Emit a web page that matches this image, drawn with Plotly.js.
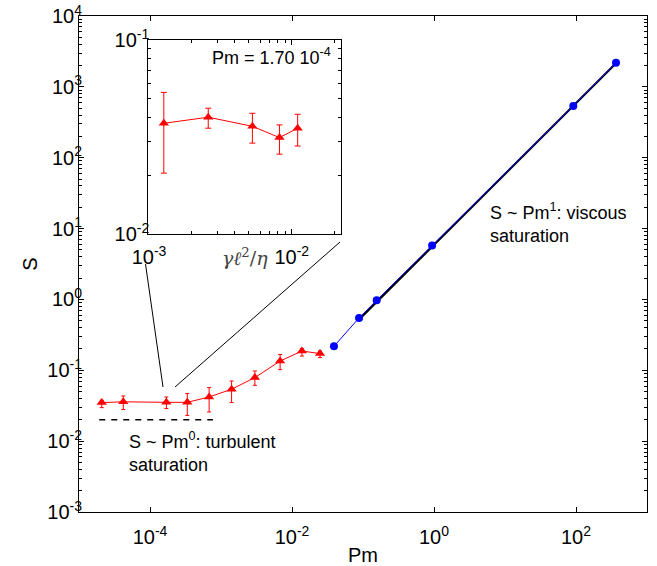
<!DOCTYPE html>
<html>
<head>
<meta charset="utf-8">
<script src="https://cdn.plot.ly/plotly-3.0.1.min.js"></script>
<style>html,body{margin:0;padding:0;background:#fff;}</style>
</head>
<body>
<div id="chart" style="width:657px;height:566px;"></div>
<script>
// Main plot: red series (turbulent regime) with error bars
const redPm = [2.09e-5, 4.2e-5, 1.70e-4, 3.35e-4, 6.8e-4, 1.41e-3, 3.0e-3, 6.8e-3, 1.38e-2, 2.48e-2];
const redS = [0.0350, 0.0359, 0.0353, 0.0353, 0.042, 0.054, 0.0789, 0.135, 0.187, 0.172];
const redSUp = [0.0377, 0.0434, 0.0420, 0.0469, 0.057, 0.0706, 0.0977, 0.167, 0.202, 0.187];
const redSLo = [0.0297, 0.0279, 0.0288, 0.0231, 0.0258, 0.0350, 0.0614, 0.102, 0.159, 0.151];

// Main plot: blue series (viscous regime)
const bluePm = [0.039, 0.088, 0.156, 0.94, 91.6, 366];
const blueS = [0.218, 0.548, 0.975, 5.77, 536, 2190];

// Guide lines
const fitPm = [0.088, 360];
const fitS = [0.52, 2124];
const flatPm = [1.93e-5, 7.7e-4];
const flatS = [0.02, 0.02];

// Inset series
const insetX = [1.27e-3, 2.6e-3, 5.3e-3, 8.2e-3, 1.1e-2];
const insetY = [0.0372, 0.040, 0.0359, 0.0314, 0.0351];
const insetYUp = [0.0537, 0.0445, 0.0419, 0.0365, 0.0414];
const insetYLo = [0.0206, 0.0351, 0.0294, 0.0258, 0.0284];

// Tick labels
const mainXTicks = [1e-4, 1e-2, 1, 1e2];
const mainXText = ['10<sup>-4</sup>', '10<sup>-2</sup>', '10<sup>0</sup>', '10<sup>2</sup>'];
const mainYTicks = [1e-3, 1e-2, 1e-1, 1, 10, 100, 1000, 10000];
const mainYText = ['10<sup>-3</sup>', '10<sup>-2</sup>', '10<sup>-1</sup>', '10<sup>0</sup>', '10<sup>1</sup>', '10<sup>2</sup>', '10<sup>3</sup>', '10<sup>4</sup>'];
const insetXTicks = [1e-3, 1e-2];
const insetXText = ['10<sup>-3</sup>', '10<sup>-2</sup>'];
const insetYTicks = [1e-2, 1e-1];
const insetYText = ['10<sup>-2</sup>', '10<sup>-1</sup>'];

function minorVals(lo, hi) {
  const out = [];
  for (let e = lo; e < hi; e++) {
    for (let d = 2; d <= 9; d++) out.push(d * Math.pow(10, e));
  }
  return out;
}

const diff = (a, b) => a.map((v, i) => v - b[i]);

const FONT = 'Liberation Sans, Arial, sans-serif';

const traces = [
  { x: fitPm, y: fitS, mode: 'lines', line: {color: 'black', width: 2.2}, xaxis: 'x', yaxis: 'y', hoverinfo: 'skip' },
  { x: flatPm, y: flatS, mode: 'lines', line: {color: 'black', width: 1.5, dash: '6px,6px'}, xaxis: 'x', yaxis: 'y' },
  { x: bluePm, y: blueS, mode: 'lines+markers', line: {color: '#0000ff', width: 1},
    marker: {symbol: 'circle', size: 8, color: '#0000ff'}, xaxis: 'x', yaxis: 'y' },
  { x: redPm, y: redS, mode: 'lines+markers', line: {color: '#ff0000', width: 1},
    marker: {symbol: 'triangle-up', size: 9, color: '#ff0000'},
    error_y: {type: 'data', symmetric: false, array: diff(redSUp, redS), arrayminus: diff(redS, redSLo),
      color: '#ff0000', thickness: 1, width: 2},
    xaxis: 'x', yaxis: 'y' },
  { x: insetX, y: insetY, mode: 'lines+markers', line: {color: '#ff0000', width: 1},
    marker: {symbol: 'triangle-up', size: 9, color: '#ff0000'},
    error_y: {type: 'data', symmetric: false, array: diff(insetYUp, insetY), arrayminus: diff(insetY, insetYLo),
      color: '#ff0000', thickness: 1, width: 3},
    xaxis: 'x2', yaxis: 'y2' }
];

const axCommon = {
  type: 'log', showgrid: false, zeroline: false, showline: true, linecolor: 'black', linewidth: 1,
  mirror: 'ticks', ticks: 'inside', ticklen: 5, tickcolor: 'black', tickmode: 'array',
  tickfont: {family: FONT, size: 20, color: 'black'}
};

const layout = {
  width: 657, height: 566,
  margin: {l: 79, r: 10, t: 16, b: 54, pad: 0},
  paper_bgcolor: 'white', plot_bgcolor: 'white',
  showlegend: false,
  font: {family: FONT, color: 'black'},
  xaxis: Object.assign({}, axCommon, {
    range: [-5, 3], tickvals: mainXTicks, ticktext: mainXText, ticklabelstandoff: 7,
    title: {text: 'Pm', font: {family: FONT, size: 20}, standoff: 0},
    domain: [0, 1], anchor: 'y'
  }),
  yaxis: Object.assign({}, axCommon, {
    range: [-3, 4], tickvals: mainYTicks, ticktext: mainYText, ticklabelstandoff: -8,
    minor: {tickmode: 'array', tickvals: minorVals(-3, 4), ticks: 'inside', ticklen: 3, tickcolor: 'black', showgrid: false},
    title: {text: 'S', font: {family: FONT, size: 20}, standoff: 4},
    domain: [0, 1], anchor: 'x'
  }),
  xaxis2: Object.assign({}, axCommon, {
    range: [-3.005, -1.655], tickvals: insetXTicks, ticktext: insetXText, ticklabelstandoff: 5,
    minor: {tickmode: 'array', tickvals: minorVals(-3, -1).filter(v => v < 0.023), ticks: 'inside', ticklen: 3, tickcolor: 'black', showgrid: false},
    domain: [0.122, 0.4613], anchor: 'y2'
  }),
  yaxis2: Object.assign({}, axCommon, {
    range: [-2, -1], tickvals: insetYTicks, ticktext: insetYText, ticklabelstandoff: -6,
    minor: {tickmode: 'array', tickvals: minorVals(-2, -1), ticks: 'inside', ticklen: 3, tickcolor: 'black', showgrid: false},
    domain: [0.5605, 0.9516], anchor: 'x2'
  }),
  shapes: [
    {type: 'line', xref: 'paper', yref: 'paper', x0: (145.5 - 79) / 568, y0: (512 - 264) / 496, x1: (163 - 79) / 568, y1: (512 - 387) / 496, line: {color: 'black', width: 1}},
    {type: 'line', xref: 'paper', yref: 'paper', x0: (340 - 79) / 568, y0: (512 - 242) / 496, x1: (175 - 79) / 568, y1: (512 - 387) / 496, line: {color: 'black', width: 1}}
  ],
  annotations: [
    {xref: 'paper', yref: 'paper', x: (127 - 79) / 568, y: (512 - 451.5) / 496, xanchor: 'left', yanchor: 'middle', align: 'left',
      showarrow: false, text: 'S ~ Pm<sup>0</sup>: turbulent<br>saturation', font: {family: FONT, size: 18, color: 'black'}},
    {xref: 'paper', yref: 'paper', x: (488 - 79) / 568, y: (512 - 223) / 496, xanchor: 'left', yanchor: 'middle', align: 'left',
      showarrow: false, text: 'S ~ Pm<sup>1</sup>: viscous<br>saturation', font: {family: FONT, size: 18, color: 'black'}},
    {xref: 'paper', yref: 'paper', x: (333 - 79) / 568, y: (512 - 57) / 496, xanchor: 'right', yanchor: 'middle',
      showarrow: false, text: 'Pm = 1.70 10<sup>-4</sup>', font: {family: FONT, size: 18, color: 'black'}},
    {xref: 'paper', yref: 'paper', x: (245 - 79) / 568, y: (512 - 257) / 496, xanchor: 'center', yanchor: 'middle',
      showarrow: false, text: '<i>γℓ</i><sup>2</sup>/<i>η</i>', font: {family: 'DejaVu Serif, serif', size: 19, color: '#444'}}
  ]
};

Plotly.newPlot('chart', traces, layout, {displayModeBar: false, staticPlot: true});
</script>
</body>
</html>
